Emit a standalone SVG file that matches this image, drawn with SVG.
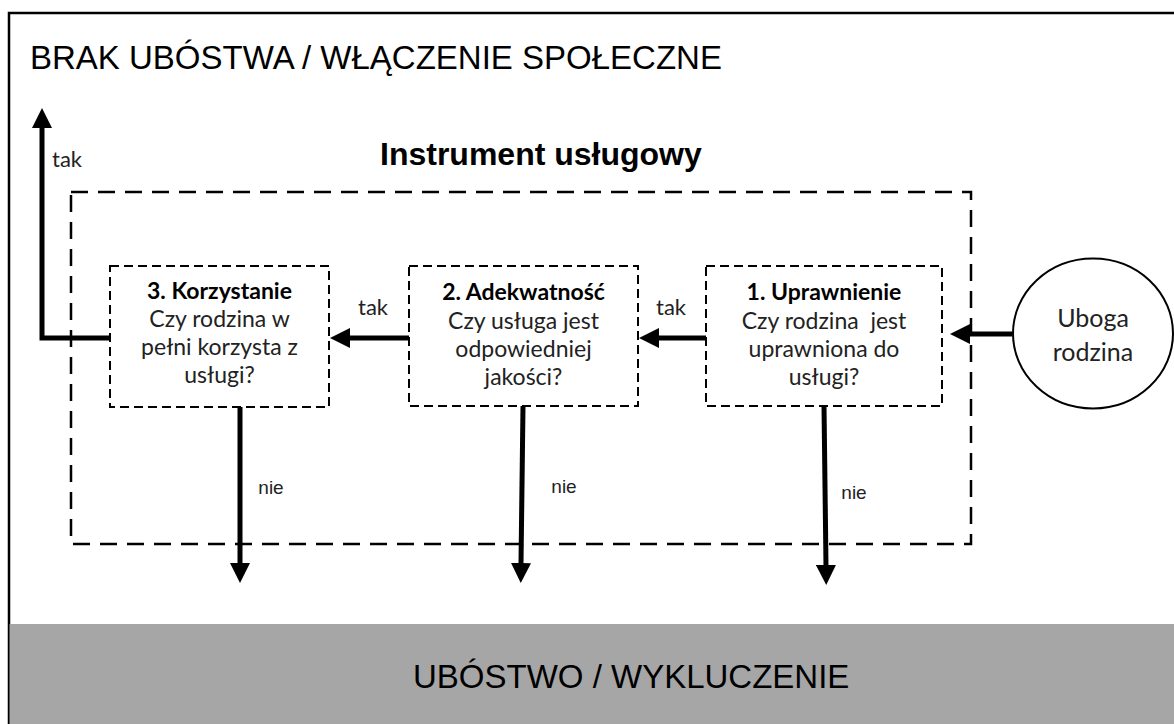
<svg xmlns="http://www.w3.org/2000/svg" width="1174" height="724" viewBox="0 0 1174 724">
<style>
.title{font-family:"Liberation Sans",Arial,sans-serif;font-size:33px;fill:#000}
.ttl2{font-family:"Liberation Sans",Arial,sans-serif;font-size:32px;font-weight:bold;fill:#000}
.bx{fill:#fff;stroke:#000;stroke-width:2;stroke-dasharray:9 5}
.txt{font-family:Lato,"Open Sans",sans-serif;font-size:23px;fill:#222;text-anchor:middle}
.b{font-weight:bold;fill:#000}
.lbl{font-family:Lato,"Open Sans",sans-serif;font-size:22px;fill:#222;text-anchor:middle}
.nie{font-family:"Liberation Sans",Arial,sans-serif;font-size:19px;fill:#222;text-anchor:middle}
.ar{fill:none;stroke:#000;stroke-width:5}
</style>
<defs>
<marker id="ah" viewBox="0 0 20 20" refX="1" refY="10" markerWidth="20" markerHeight="20" markerUnits="userSpaceOnUse" orient="auto">
<path d="M0,0 L20,10 L0,20 z" fill="#000"/>
</marker>
</defs>
<rect x="0" y="0" width="1174" height="724" fill="#fff"/>
<rect x="9" y="13" width="1180" height="720" fill="#fff" stroke="#000" stroke-width="2.5"/>
<rect x="9.5" y="624" width="1170" height="110" fill="#a6a6a6"/>
<text class="title" x="30" y="69">BRAK UBÓSTWA / WŁĄCZENIE SPOŁECZNE</text>
<text class="title" x="413" y="688">UBÓSTWO / WYKLUCZENIE</text>
<g id="instrument">
<rect x="71" y="192" width="900" height="352" fill="none" stroke="#000" stroke-width="2.5" stroke-dasharray="17 10"/>
<text class="ttl2" x="380" y="165">Instrument usługowy</text>
</g>
<g id="node-korzystanie">
<rect class="bx" x="110" y="266" width="219" height="141"/>
<text class="txt"><tspan class="b" x="219.5" y="299">3. Korzystanie</tspan><tspan x="219.5" y="327">Czy rodzina w</tspan><tspan x="219.5" y="355">pełni korzysta z</tspan><tspan x="219.5" y="383">usługi?</tspan></text>
</g>
<g id="node-adekwatnosc">
<rect class="bx" x="409" y="266" width="229" height="140"/>
<text class="txt"><tspan class="b" x="523.5" y="300">2. Adekwatność</tspan><tspan x="523.5" y="329">Czy usługa jest</tspan><tspan x="523.5" y="357">odpowiedniej</tspan><tspan x="523.5" y="385">jakości?</tspan></text>
</g>
<g id="node-uprawnienie">
<rect class="bx" x="706" y="266" width="236" height="140"/>
<text class="txt" xml:space="preserve"><tspan class="b" x="824" y="300">1. Uprawnienie</tspan><tspan x="824" y="329">Czy rodzina  jest</tspan><tspan x="824" y="357">uprawniona do</tspan><tspan x="824" y="385">usługi?</tspan></text>
</g>
<g id="node-rodzina">
<ellipse cx="1093" cy="333.5" rx="80" ry="75" fill="#fff" stroke="#000" stroke-width="2"/>
<text class="txt" style="font-size:25px"><tspan x="1093" y="327">Uboga</tspan><tspan x="1093" y="361">rodzina</tspan></text>
</g>
<g id="connectors">
<line class="ar" x1="1012" y1="334" x2="969" y2="334" marker-end="url(#ah)"/>
<line class="ar" x1="706" y1="338" x2="658" y2="338" marker-end="url(#ah)"/>
<line class="ar" x1="409" y1="338" x2="349" y2="338" marker-end="url(#ah)"/>
<polyline class="ar" points="110,338 42,338 42,127" marker-end="url(#ah)"/>
<line class="ar" x1="240" y1="407" x2="240" y2="564" marker-end="url(#ah)"/>
<line class="ar" x1="523" y1="406" x2="521" y2="564" marker-end="url(#ah)"/>
<line class="ar" x1="824" y1="406" x2="826" y2="566" marker-end="url(#ah)"/>
<text class="lbl" x="671" y="315">tak</text>
<text class="lbl" x="373" y="315">tak</text>
<text class="lbl" x="67" y="167">tak</text>
<text class="nie" x="271" y="494">nie</text>
<text class="nie" x="564" y="493">nie</text>
<text class="nie" x="854" y="499">nie</text>
</g>
</svg>
